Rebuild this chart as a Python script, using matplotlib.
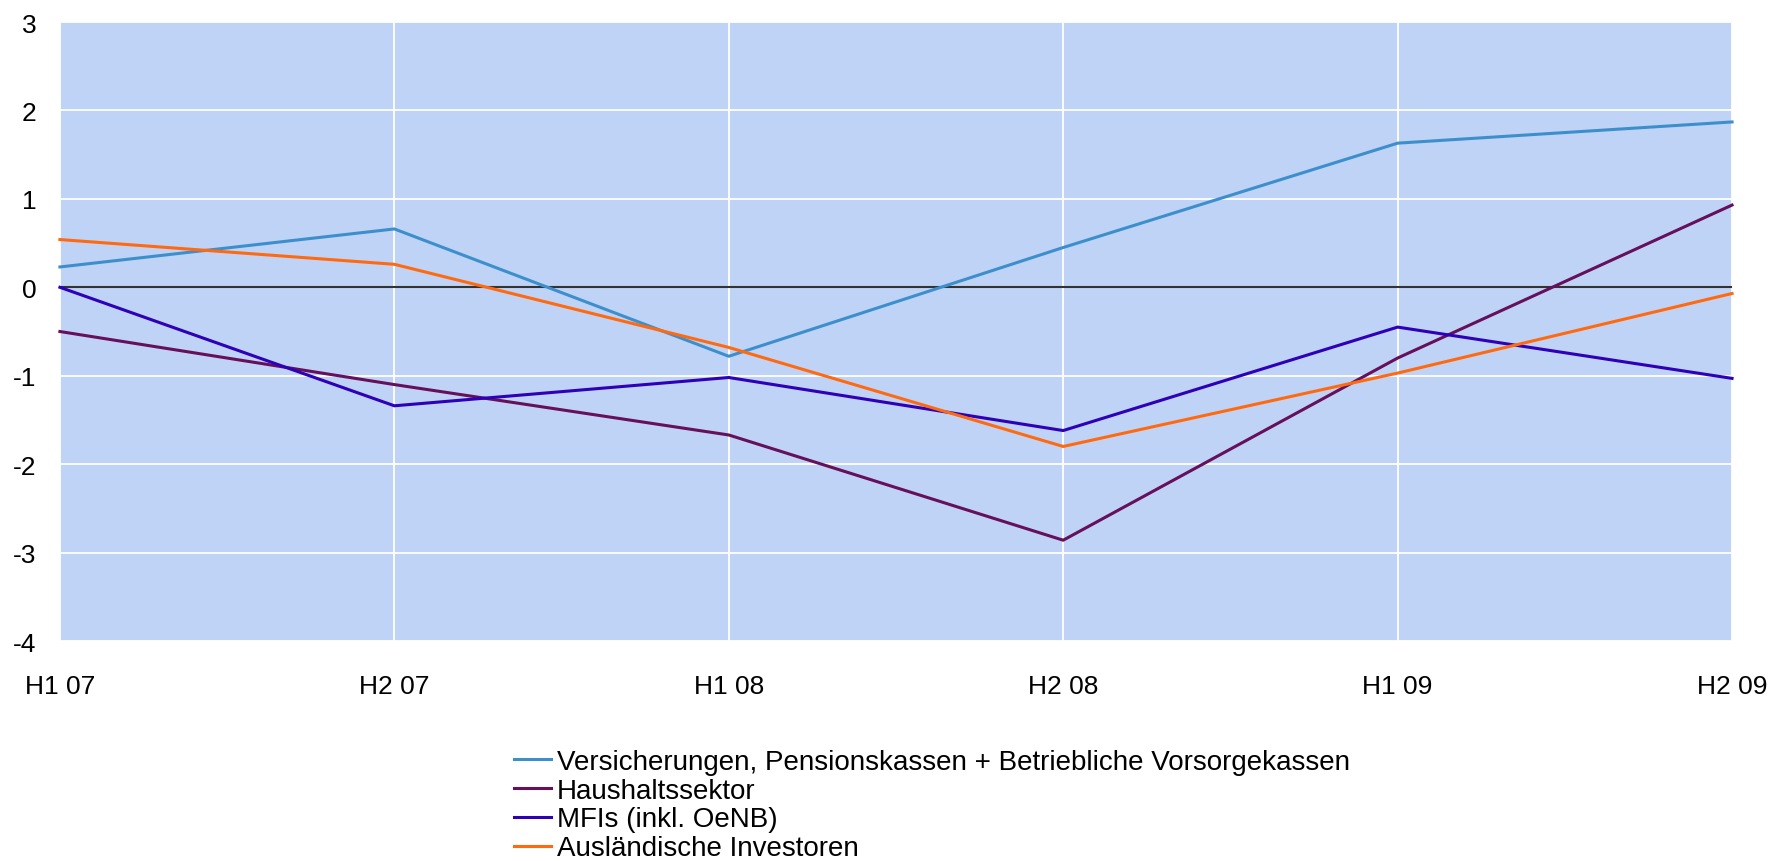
import matplotlib
matplotlib.use('Agg')
import matplotlib.pyplot as plt

perioden = ['H1 07', 'H2 07', 'H1 08', 'H2 08', 'H1 09', 'H2 09']
versicherungen = [0.23, 0.66, -0.78, 0.45, 1.63, 1.87]
haushalte = [-0.50, -1.10, -1.67, -2.86, -0.80, 0.93]
mfis = [0.00, -1.34, -1.02, -1.62, -0.45, -1.03]
ausland = [0.54, 0.26, -0.68, -1.80, -0.97, -0.07]

namen = ['Versicherungen, Pensionskassen + Betriebliche Vorsorgekassen',
         'Haushaltssektor', 'MFIs (inkl. OeNB)', 'Ausländische Investoren']
farben = ['#3D8FCC', '#660F5A', '#2E00B8', '#FF6A10']
y_ticks = [-4, -3, -2, -1, 0, 1, 2, 3]

plt.rcParams['font.family'] = ['Liberation Sans', 'DejaVu Sans']

fig = plt.figure(figsize=(17.73, 8.62), dpi=100)
ax = fig.add_axes([0.0338, 0.2552, 0.9431, 0.7181])
ax.set_facecolor('#BFD3F7')

x = list(range(len(perioden)))
for werte, name, farbe in zip([versicherungen, haushalte, mfis, ausland], namen, farben):
    ax.plot(x, werte, color=farbe, linewidth=2.2, label=name, clip_on=False, zorder=3)

ax.axhline(0, color='#333333', linewidth=1.5, zorder=2)
ax.set_xlim(0, 5)
ax.set_ylim(-4, 3)
ax.set_yticks(y_ticks)
ax.set_yticklabels([str(t) for t in y_ticks])
ax.set_xticks(x)
ax.set_xticklabels(perioden)
ax.grid(True, color='white', linewidth=1.3)
ax.set_axisbelow(True)
for s in ax.spines.values():
    s.set_visible(False)
ax.tick_params(axis='both', length=0, labelsize=19)
ax.tick_params(axis='x', pad=24)
ax.tick_params(axis='y', pad=17)

fig.legend(loc='upper left', bbox_to_anchor=(0.29, 0.13), frameon=False,
           handlelength=1.33, handletextpad=0.2, labelspacing=0.1,
           borderpad=0, borderaxespad=0, prop={'size': 20})

fig.savefig('out.png', dpi=100)
